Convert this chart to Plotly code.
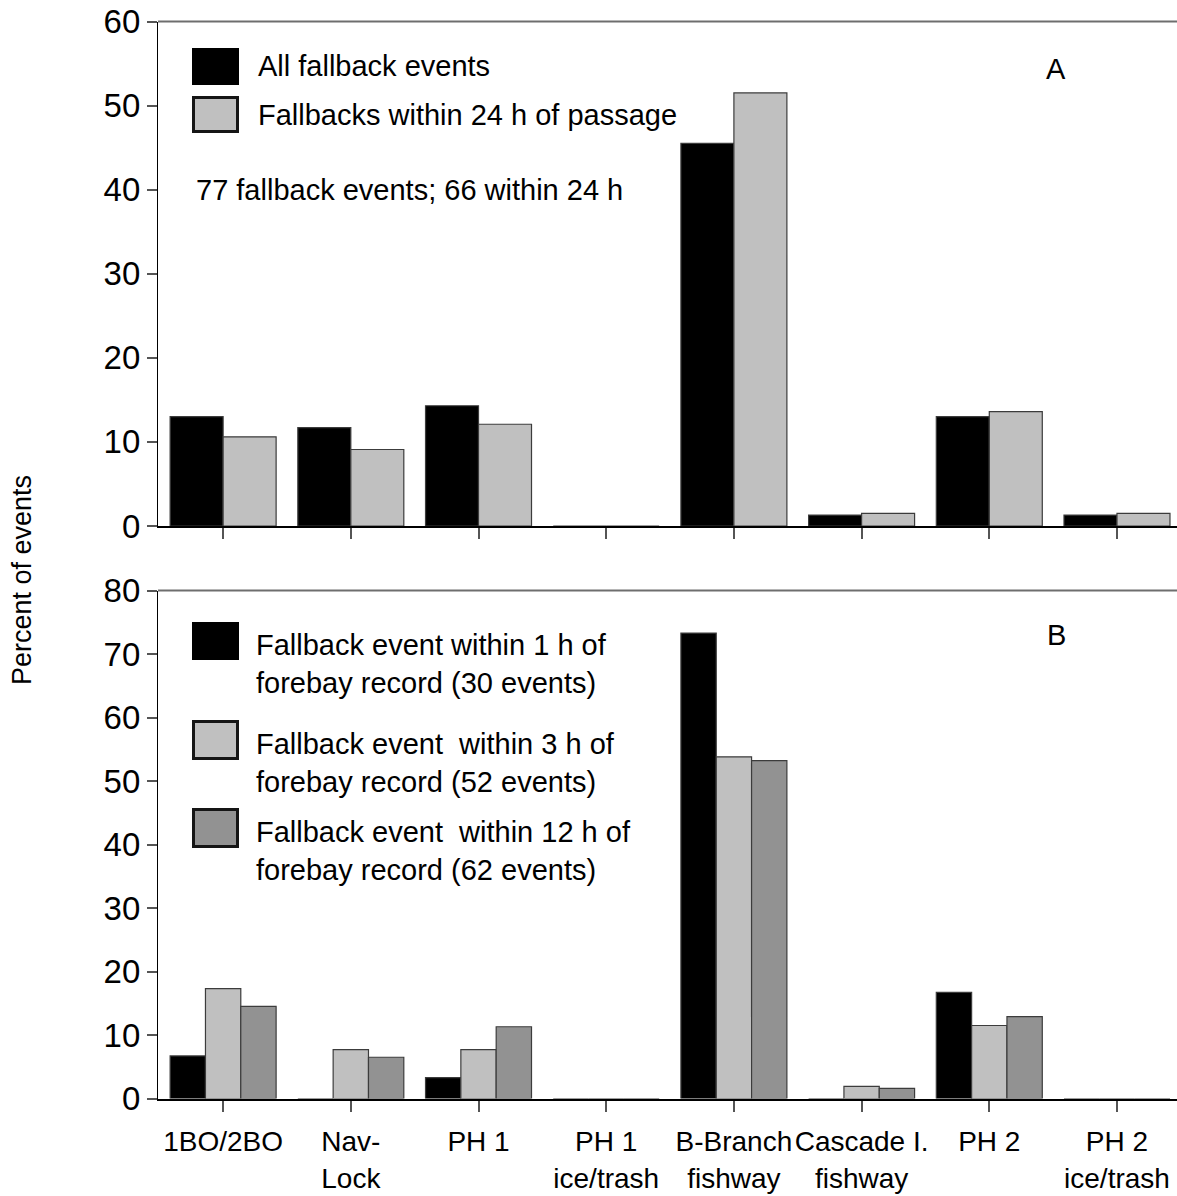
import plotly.graph_objects as go

# ---- data -------------------------------------------------------------
categories = ["1BO/2BO", "Nav-<br>Lock", "PH 1", "PH 1<br>ice/trash",
              "B-Branch<br>fishway", "Cascade I.<br>fishway", "PH 2", "PH 2<br>ice/trash"]

# Panel A: percent of fallback events (77 total; 66 within 24 h)
all_fallbacks = [13.0, 11.7, 14.3, 0.0, 45.5, 1.3, 13.0, 1.3]
within_24h = [10.6, 9.1, 12.1, 0.0, 51.5, 1.5, 13.6, 1.5]

# Panel B: percent of events relative to last forebay record
within_1h = [6.7, 0.0, 3.3, 0.0, 73.3, 0.0, 16.7, 0.0]
within_3h = [17.3, 7.7, 7.7, 0.0, 53.8, 1.9, 11.5, 0.0]
within_12h = [14.5, 6.5, 11.3, 0.0, 53.2, 1.6, 12.9, 0.0]

y_ticks_a = [0, 10, 20, 30, 40, 50, 60]
y_ticks_b = [0, 10, 20, 30, 40, 50, 60, 70, 80]

# ---- page geometry (pixels) ---------------------------------------------
FIG_W, FIG_H = 1177, 1196
LEFT = 158
PLOT_W = FIG_W - LEFT
FONT = "Liberation Sans, Arial, Helvetica, sans-serif"

BLACK = "#000000"
LIGHT = "#c0c0c0"
DARK = "#929292"
EDGE = "#3c3c3c"
TICK = "#555555"


def fx(px):
    return (px - LEFT) / PLOT_W


def fy(py):
    return (FIG_H - py) / FIG_H


xpos = list(range(len(categories)))

fig = go.Figure()


def add_bars(values, name, color, xa, ya):
    fig.add_trace(go.Bar(
        x=xpos, y=values, name=name, xaxis=xa, yaxis=ya,
        marker=dict(color=color, line=dict(color=EDGE, width=1.2)),
        showlegend=False, hoverinfo="x+y",
    ))


add_bars(all_fallbacks, "All fallback events", BLACK, "x", "y")
add_bars(within_24h, "Fallbacks within 24 h of passage", LIGHT, "x", "y")
add_bars(within_1h, "Within 1 h of forebay record", BLACK, "x2", "y2")
add_bars(within_3h, "Within 3 h of forebay record", LIGHT, "x2", "y2")
add_bars(within_12h, "Within 12 h of forebay record", DARK, "x2", "y2")

x_range = [-0.51, 7.47]
common_x = dict(
    range=x_range, tickmode="array", tickvals=xpos,
    showline=True, linecolor=BLACK, linewidth=2,
    ticks="outside", ticklen=11, tickwidth=1.5, tickcolor=TICK,
    showgrid=False, zeroline=False, fixedrange=True, automargin=False,
)
common_y = dict(
    showline=True, linecolor=BLACK, linewidth=1.3,
    ticks="outside", ticklen=10, tickwidth=1.5, tickcolor=TICK,
    showgrid=False, zeroline=False, automargin=False,
    tickfont=dict(family=FONT, size=33, color=BLACK),
)

fig.update_layout(
    width=FIG_W, height=FIG_H,
    margin=dict(l=LEFT, r=0, t=0, b=0, autoexpand=False),
    paper_bgcolor="white", plot_bgcolor="white",
    barmode="group", bargap=0.17, bargroupgap=0,
    font=dict(family=FONT, color=BLACK),
    xaxis=dict(**common_x, anchor="y", showticklabels=False),
    yaxis=dict(**common_y, anchor="x", domain=[fy(526), fy(21.5)],
               range=[0, 60], tickvals=y_ticks_a),
    xaxis2=dict(**common_x, anchor="y2", ticktext=categories,
                tickfont=dict(family=FONT, size=28, color=BLACK),
                ticklabelstandoff=6),
    yaxis2=dict(**common_y, anchor="x2", domain=[fy(1098.5), fy(590.5)],
                range=[0, 80], tickvals=y_ticks_b),
)

shapes = []
# top frame lines of both panels
for ya in ("y", "y2"):
    shapes.append(dict(type="line", xref="x domain" if ya == "y" else "x2 domain",
                       yref=f"{ya} domain", x0=0, x1=1, y0=1, y1=1,
                       line=dict(color="#6e6e6e", width=2)))


# legend swatches
def swatch(x0, y0, x1, y1, fill, border_w):
    shapes.append(dict(type="rect", xref="paper", yref="paper",
                       x0=fx(x0), x1=fx(x1), y0=fy(y1), y1=fy(y0),
                       fillcolor=fill,
                       line=dict(color="#151515", width=border_w)))


swatch(192, 48, 239, 85, BLACK, 0)
swatch(193.5, 97.5, 237.5, 131.5, LIGHT, 3)
swatch(192, 622, 239, 660, BLACK, 0)
swatch(193.5, 721.5, 237.5, 758.5, LIGHT, 3)
swatch(193.5, 809.5, 237.5, 846.5, DARK, 3)
fig.update_layout(shapes=shapes)


def text(px, py, s, size=29, xanchor="left"):
    fig.add_annotation(xref="paper", yref="paper", x=fx(px), y=fy(py), text=s,
                       showarrow=False, xanchor=xanchor, yanchor="middle",
                       align="left", font=dict(family=FONT, size=size, color=BLACK))


text(256, 66, "All fallback events")
text(256, 115, "Fallbacks within 24 h of passage")
text(194, 190, "77 fallback events; 66 within 24 h")
text(1056, 69, "A", xanchor="center")

text(254, 664, "Fallback event within 1 h of<br>forebay record (30 events)")
text(254, 763, "Fallback event \u00a0within 3 h of<br>forebay record (52 events)")
text(254, 851, "Fallback event \u00a0within 12 h of<br>forebay record (62 events)")
text(1056, 635, "B", xanchor="center")

# shared y-axis title
fig.add_annotation(xref="paper", yref="paper", x=fx(22), y=fy(580),
                   text="Percent of events", textangle=-90, showarrow=False,
                   xanchor="center", yanchor="middle",
                   font=dict(family=FONT, size=27, color=BLACK))

fig.write_html("out.html")
